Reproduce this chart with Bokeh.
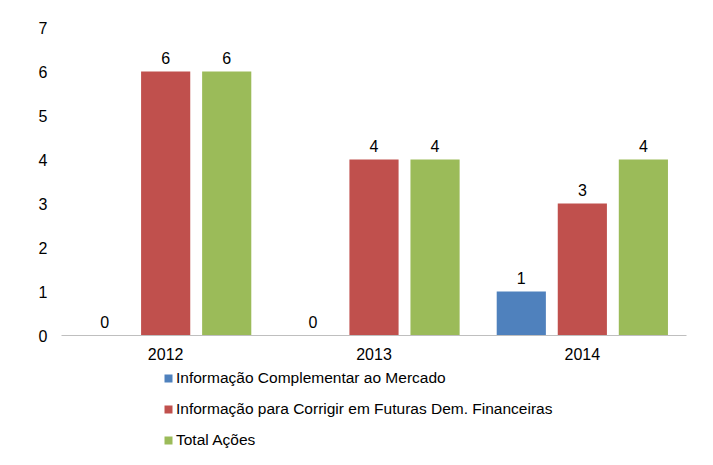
from bokeh.plotting import figure
from bokeh.layouts import column
from bokeh.models import ColumnDataSource, FactorRange, Range1d, Legend, LegendItem, LabelSet, FixedTicker
from bokeh.transform import dodge
from bokeh.core.properties import value
from bokeh.embed import file_html
from bokeh.resources import INLINE

years = ["2012", "2013", "2014"]
series_names = ["Informação Complementar ao Mercado",
                "Informação para Corrigir em Futuras Dem. Financeiras",
                "Total Ações"]
complementar = [0, 0, 1]
corrigir = [6, 4, 3]
total = [6, 4, 4]
colors = ["#4F81BD", "#C0504D", "#9BBB59"]

FONT = "Liberation Sans"
FS = "16px"
LFS = "15.5px"

p = figure(x_range=FactorRange(*years, range_padding=0), y_range=Range1d(0, 7),
           width=713, height=368, output_backend="svg", toolbar_location=None,
           min_border_left=61, min_border_right=27, min_border_top=27, min_border_bottom=33)
p.outline_line_color = None
p.xgrid.grid_line_color = None
p.ygrid.grid_line_color = None

src = ColumnDataSource(dict(year=years, a=complementar, b=corrigir, c=total,
                            la=[str(v) for v in complementar],
                            lb=[str(v) for v in corrigir],
                            lc=[str(v) for v in total]))

offsets = [-0.293, 0.0, 0.293]
cols = ["a", "b", "c"]
lcols = ["la", "lb", "lc"]
for off, col, lcol, color in zip(offsets, cols, lcols, colors):
    p.vbar(x=dodge("year", off, range=p.x_range), top=col, width=0.236, source=src,
           fill_color=color, line_color=None)
    labels = LabelSet(x=dodge("year", off, range=p.x_range), y=col, text=lcol, source=src,
                      text_align="center", text_baseline="alphabetic", y_offset=8,
                      text_font=value(FONT), text_font_size=value(FS), text_color="#000000")
    p.add_layout(labels)

p.xaxis.axis_line_color = "#BFBFBF"
p.xaxis.axis_line_width = 1
p.xaxis.major_tick_line_color = None
p.xaxis.minor_tick_line_color = None
p.xaxis.major_tick_out = 0
p.xaxis.major_tick_in = 0
p.xaxis.major_label_standoff = 12
p.xaxis.major_label_text_font = FONT
p.xaxis.major_label_text_font_size = FS
p.xaxis.major_label_text_color = "#000000"

p.yaxis.ticker = FixedTicker(ticks=list(range(0, 8)))
p.yaxis.axis_line_color = None
p.yaxis.major_tick_line_color = None
p.yaxis.minor_tick_line_color = None
p.yaxis.major_tick_out = 0
p.yaxis.major_tick_in = 0
p.yaxis.major_label_standoff = 14
p.yaxis.major_label_text_font = FONT
p.yaxis.major_label_text_font_size = FS
p.yaxis.major_label_text_color = "#000000"

# Legend panel below the chart (its frame is aligned with the chart's frame)
pl = figure(width=713, height=97, output_backend="svg", toolbar_location=None,
            x_range=Range1d(0, 1), y_range=Range1d(0, 1),
            x_axis_type=None, y_axis_type=None,
            min_border_left=61, min_border_right=27, min_border_top=0, min_border_bottom=0)
pl.outline_line_color = None
leg_renderers = [pl.vbar(x=[-5], top=[-5], width=0.1, fill_color=c, line_color=None) for c in colors]
legend = Legend(items=[LegendItem(label=n, renderers=[r]) for n, r in zip(series_names, leg_renderers)],
                location=(102, 15), orientation="vertical",
                glyph_width=10, glyph_height=10, label_text_font=FONT,
                label_text_font_size=LFS, label_text_color="#000000",
                label_height=20, spacing=11, padding=0, margin=0,
                border_line_color=None, background_fill_alpha=0, label_standoff=3)
pl.add_layout(legend, "center")

layout = column(p, pl, spacing=0)
open("out.html", "w").write(file_html(layout, INLINE))
